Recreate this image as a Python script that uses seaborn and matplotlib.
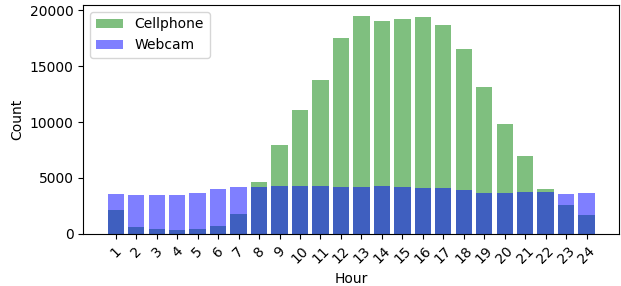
import pandas as pd
import matplotlib
matplotlib.use("Agg")
import matplotlib.pyplot as plt
import seaborn as sns

hours = list(range(1, 25))
cellphone = [2170, 650, 475, 385, 475, 740, 1815, 4640, 7920, 11100, 13750, 17470,
             19490, 19050, 19230, 19400, 18690, 16490, 13125, 9850, 6935, 4020, 2590, 1700]
webcam = [3570, 3480, 3480, 3480, 3660, 4020, 4200, 4200, 4290, 4290, 4290, 4200,
          4200, 4290, 4200, 4110, 4110, 3930, 3660, 3660, 3750, 3750, 3570, 3660]

df = pd.DataFrame({"Hour": hours, "Cellphone": cellphone, "Webcam": webcam})

fig, ax = plt.subplots(figsize=(6.21, 2.86), dpi=100)
sns.barplot(data=df, x="Hour", y="Cellphone", color="green", alpha=0.5,
            saturation=1, width=0.8, label="Cellphone", ax=ax)
sns.barplot(data=df, x="Hour", y="Webcam", color="blue", alpha=0.5,
            saturation=1, width=0.8, label="Webcam", ax=ax)

ax.set_xlim(-1.59, 24.59)
ax.set_ylim(0, 20470)
ax.set_yticks([0, 5000, 10000, 15000, 20000])
ax.set_xlabel("Hour")
ax.set_ylabel("Count")
plt.setp(ax.get_xticklabels(), rotation=45)
ax.legend(loc="upper left")

plt.subplots_adjust(left=0.134, right=0.997, top=0.983, bottom=0.182)
plt.savefig("out.png", dpi=100)
